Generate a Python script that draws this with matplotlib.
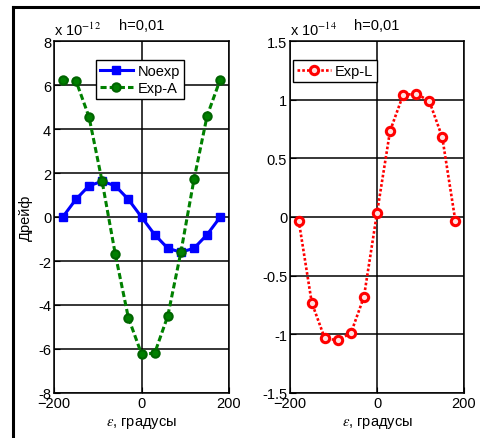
import matplotlib
matplotlib.use("Agg")
import matplotlib.pyplot as plt
from matplotlib.lines import Line2D

plt.rcParams['font.family'] = ['Liberation Sans', 'DejaVu Sans']
plt.rcParams['mathtext.fontset'] = 'stix'

# данные (x в градусах, y в единицах 1e-12 / 1e-14)
eps = [-180, -150, -120, -90, -60, -30, 0, 30, 60, 90, 120, 150, 180]
noexp = [0, 0.8, 1.42, 1.62, 1.42, 0.8, 0, -0.8, -1.42, -1.6, -1.42, -0.8, 0]
exp_a = [6.25, 6.2, 4.55, 1.62, -1.68, -4.58, -6.22, -6.2, -4.5, -1.6, 1.71, 4.6, 6.25]
exp_l = [-0.03, -0.73, -1.035, -1.05, -0.99, -0.68, 0.034, 0.733, 1.04, 1.05, 0.99, 0.68, -0.03]

fig = plt.figure(figsize=(4.81, 4.39), dpi=100)

# рамка слева и сверху
fig.add_artist(Line2D([13/481, 13/481], [0, 1 - 8/439], color='black', lw=2.2))
fig.add_artist(Line2D([13/481, 1], [1 - 8/439, 1 - 8/439], color='black', lw=2.2))

ax1 = fig.add_axes([54/481, 45/439, 175/481, 352/439])
ax2 = fig.add_axes([290/481, 45/439, 174/481, 352/439])


def style(ax, ylim, yticks, scale):
    ax.set_xlim(-200, 200)
    ax.set_ylim(ylim)
    ax.set_xticks([-200, 0, 200])
    ax.set_yticks(yticks)
    ax.set_yticklabels([('%g' % t) for t in yticks])
    ax.grid(True, color='black', lw=1.1)
    ax.set_axisbelow(True)
    ax.tick_params(direction='in', labelsize=10.5, length=4, pad=2)
    for s in ax.spines.values():
        s.set_linewidth(1.1)
    ax.set_xlabel(r'$\varepsilon$, градусы', fontsize=10.5, labelpad=4)
    ax.set_title('h=0,01', fontsize=10.5, pad=9)
    ax.text(0.0, 1.008, r'x 10$^{%d}$' % scale, transform=ax.transAxes,
            fontsize=10.5, ha='left', va='bottom')


ax1.plot(eps, noexp, '-s', color='blue', lw=2.2, ms=6, mfc='blue', mec='blue', label='Noexp')
ax1.plot(eps, exp_a, '--o', color='green', lw=2.2, ms=6, mfc='green', mec='#006400',
         mew=1.5, dashes=(2, 1), label='Exp-A')
style(ax1, (-8, 8), [-8, -6, -4, -2, 0, 2, 4, 6, 8], -12)
ax1.set_ylabel('Дрейф', fontsize=10.5, labelpad=4)
ax1.legend(loc='upper left', bbox_to_anchor=(0.24, 0.945), fontsize=10.5,
           fancybox=False, edgecolor='black', framealpha=1, handlelength=2.3,
           borderpad=0.25, labelspacing=0.2, handletextpad=0.3, borderaxespad=0)

ax2.plot(eps, exp_l, 'o', color='red', ls=(0, (1, 0.8)), lw=1.9, ms=6, mfc='#ffe0e0',
         mec='red', mew=2.2, label='Exp-L')
style(ax2, (-1.5, 1.5), [-1.5, -1, -0.5, 0, 0.5, 1, 1.5], -14)
ax2.legend(loc='upper left', bbox_to_anchor=(0.02, 0.945), fontsize=10.5,
           fancybox=False, edgecolor='black', framealpha=1, handlelength=2.3,
           borderpad=0.25, handletextpad=0.3, borderaxespad=0)

fig.savefig('out.png', dpi=100)
